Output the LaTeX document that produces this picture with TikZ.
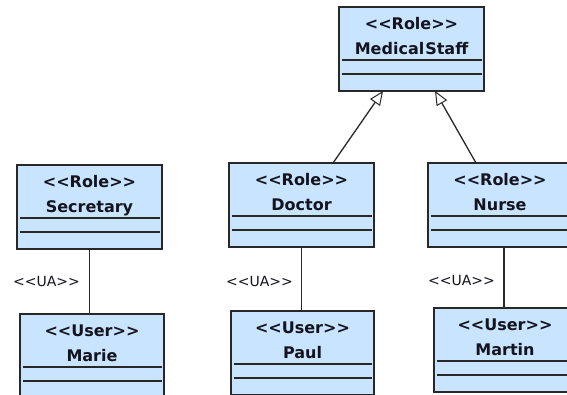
\documentclass[tikz,border=0pt]{standalone}
\usepackage{fontspec}
\setmainfont{DejaVu Sans}
\usetikzlibrary{arrows.meta,calc}

\definecolor{classfill}{RGB}{200,228,255}
\definecolor{classedge}{RGB}{40,40,40}
\definecolor{inkcol}{RGB}{20,20,30}

\tikzset{
  classbox/.style={rectangle, draw=classedge, line width=1.8pt, fill=classfill,
    minimum width=#1, minimum height=84pt, anchor=north west,
    inner sep=0pt, outer sep=0pt},
  classtext/.style={anchor=base, inner sep=0pt, text=inkcol,
    font=\fontsize{16}{16}\selectfont\bfseries},
  compline/.style={draw=classedge, line width=1.8pt},
  ualabel/.style={anchor=base east, inner sep=0pt, text=inkcol,
    font=\fontsize{14}{14}\selectfont},
  link/.style={draw=classedge, line width=1.3pt},
  isa/.style={link, -{Triangle[length=14pt, width=12pt, fill=white, line width=1pt]}},
}

% <<text>> without letting the font merge the angle brackets
\newcommand\stereo[1]{<\kern0pt<#1>\kern0pt>}

% UML class box: name, x, y, width, stereotype, title
\newcommand\umlclass[6]{%
  \node[classbox=#4] (#1) at (#2,#3) {};
  \node[classtext] (#1-st) at ([yshift=-22pt]#1.north) {\stereo{#5}};
  \node[classtext] (#1-nm) at ([yshift=-47.5pt]#1.north) {#6};
  \draw[compline] ([xshift=2.5pt,yshift=-53pt]#1.north west) -- ([xshift=-2.5pt,yshift=-53pt]#1.north east);
  \draw[compline] ([xshift=2.5pt,yshift=-67pt]#1.north west) -- ([xshift=-2.5pt,yshift=-67pt]#1.north east);
}

\begin{document}
\begin{tikzpicture}[x=1pt, y=-1pt]
  \useasboundingbox (0,0) rectangle (567,394);
  \fill[white] (0,0) rectangle (567,394);
  \clip (0,0) rectangle (567,394);

  % roles
  \umlclass{medstaff}{339}{7}{145pt}{Role}{Medical\kern1pt Staff}
  \umlclass{secretary}{17}{165}{145pt}{Role}{Secretary}
  \umlclass{doctor}{229}{163}{145pt}{Role}{Doctor}
  \umlclass{nurse}{428}{163}{144pt}{Role}{Nurse}

  % users
  \umlclass{marie}{20}{314}{144pt}{User}{Marie}
  \umlclass{paul}{231}{311}{143pt}{User}{Paul}
  \umlclass{martin}{434}{308}{142pt}{User}{Martin}

  % generalisation
  \draw[isa] ([xshift=104pt]doctor.north west) -- ([xshift=44pt]medstaff.south west);
  \draw[isa] ([xshift=48pt]nurse.north west) -- ([xshift=96pt]medstaff.south west);

  % user assignments
  \coordinate (nurseua) at ([xshift=76pt]nurse.south west);
  \draw[link] (secretary.south) -- (secretary.south |- marie.north);
  \draw[link] (doctor.south) -- (doctor.south |- paul.north);
  \draw[link] (nurseua) -- (nurseua |- martin.north);

  \node[ualabel] (ua-sec) at (80,286) {\stereo{UA}};
  \node[ualabel] (ua-doc) at (293,286) {\stereo{UA}};
  \node[ualabel] (ua-nur) at (495,285) {\stereo{UA}};
\end{tikzpicture}
\end{document}
